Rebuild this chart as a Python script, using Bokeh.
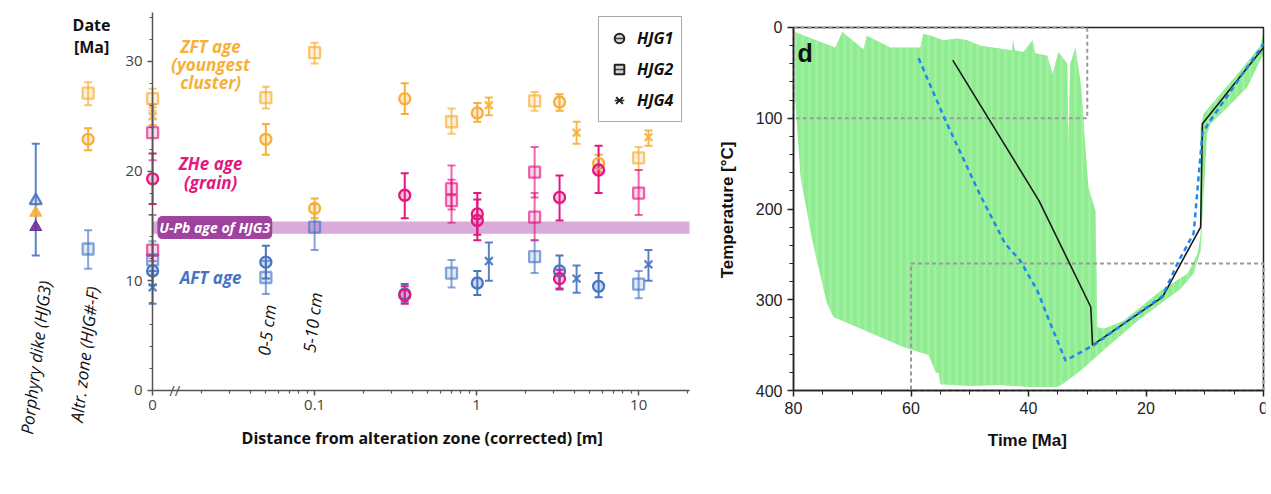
import numpy as np
from bokeh.plotting import figure
from bokeh.models import (Range1d, LinearAxis, LogAxis, FixedTicker, Whisker, TeeHead,
                          ColumnDataSource, Label, Legend, LegendItem, CustomJSTickFormatter)
from bokeh.layouts import row
from bokeh.embed import file_html
from bokeh.resources import INLINE

# ------------------------------------------------------------------ data (left panel)
# distance "0" is drawn at ZERO_POS on the broken log axis; the two reference
# columns (porphyry dike, alteration zone) sit left of the axis
ZERO_POS = 0.01
DIKE_POS = 0.0019
ALTR_POS = 0.004
X_AXIS_END = 20.6
Y_AXIS_END = 34.5

X_TICKS = [0.01, 0.1, 1, 10]
X_MINOR = [0.02, 0.03, 0.04, 0.05, 0.06, 0.07, 0.08, 0.09,
           0.2, 0.3, 0.4, 0.5, 0.6, 0.7, 0.8, 0.9,
           2, 3, 4, 5, 6, 7, 8, 9, 20]
Y_TICKS = [0, 10, 20, 30]
Y_MINOR = list(range(0, 35, 2))

# ZFT ages (youngest cluster)
ZFT_HJG1 = dict(dist=["altr", 0.05, 0.1, 0.36, 1.01, 3.25, 5.66],
                age=[22.9, 22.9, 16.6, 26.6, 25.3, 26.3, 20.7],
                lo=[21.9, 21.5, 15.7, 25.2, 24.5, 25.5, 19.9],
                hi=[23.9, 24.3, 17.5, 28.0, 26.2, 27.0, 21.5])
ZFT_HJG2 = dict(dist=["altr", 0, 0.05, 0.1, 0.70, 2.28, 10.0],
                age=[27.1, 26.6, 26.7, 30.8, 24.5, 26.4, 21.2],
                lo=[26.0, 25.5, 25.7, 29.8, 23.4, 25.5, 20.1],
                hi=[28.1, 27.5, 27.7, 31.7, 25.7, 27.2, 22.2])
ZFT_HJG4 = dict(dist=[0, 1.19, 4.14, 11.5],
                age=[25.0, 26.0, 23.5, 23.1],
                lo=[24.2, 25.1, 22.5, 22.3],
                hi=[25.8, 26.7, 24.5, 23.7])

# ZHe ages (single grains)
ZHE_HJG1 = dict(dist=[0, 0.36, 0.36, 1.01, 1.01, 3.25, 3.25, 5.66],
                age=[19.3, 17.8, 8.7, 16.1, 15.5, 17.6, 10.2, 20.1],
                lo=[17.0, 15.7, 7.9, 14.2, 13.7, 15.5, 9.3, 18.0],
                hi=[21.6, 19.8, 9.5, 18.0, 17.4, 19.6, 11.0, 22.3])
ZHE_HJG2 = dict(dist=[0, 0, 0.70, 0.70, 2.28, 2.28, 10.0],
                age=[23.5, 12.8, 18.4, 17.3, 19.9, 15.8, 18.0],
                lo=[21.0, 11.8, 16.5, 15.3, 17.6, 13.7, 16.0],
                hi=[26.1, 16.0, 20.5, 19.2, 22.2, 18.0, 20.1])

# AFT ages
AFT_HJG1 = dict(dist=[0, 0.05, 0.36, 1.01, 3.25, 5.66],
                age=[10.9, 11.7, 8.8, 9.8, 10.9, 9.5],
                lo=[9.6, 10.2, 8.1, 8.7, 9.2, 8.5],
                hi=[12.3, 13.2, 9.7, 10.9, 12.3, 10.7])
AFT_HJG2 = dict(dist=["altr", 0, 0.05, 0.1, 0.70, 2.28, 10.0],
                age=[12.9, 11.9, 10.3, 14.9, 10.7, 12.2, 9.7],
                lo=[11.1, 10.5, 8.8, 12.8, 9.4, 10.7, 8.4],
                hi=[14.6, 13.6, 11.8, 17.0, 11.9, 13.7, 10.9])
AFT_HJG4 = dict(dist=[0, 1.19, 4.14, 11.5],
                age=[9.4, 11.8, 10.2, 11.5],
                lo=[7.9, 10.0, 8.9, 10.0],
                hi=[10.9, 13.5, 11.4, 12.8])

# porphyry dike HJG3
DIKE_AFT = dict(dist=["dike"], age=[17.3], lo=[12.3], hi=[22.5])
DIKE_ZFT_AGE = [16.2]
DIKE_UPB_AGE = [14.9]

# U-Pb age band of HJG3
UPB_LO = [14.3]
UPB_HI = [15.4]

# ------------------------------------------------------------------ data (right panel)
T_AXIS_MAX = 80
TEMP_AXIS_MAX = 400
T_TICKS = [0, 20, 40, 60, 80]
T_MINOR = list(range(0, 81, 5))
TEMP_TICKS = [0, 100, 200, 300, 400]
TEMP_MINOR = list(range(0, 401, 20))

ENV_TIME = [79.8, 72.9, 71.7, 68.1, 67.5, 63.5, 58.4, 57.9, 56.2, 54.5, 52.1, 50.4,
            48.2, 42.8, 42.6, 42.3, 40.9, 39.3, 38.9, 36.8, 35.9, 34.9, 33.4, 33.2,
            32.9, 32.0, 31.1, 29.8, 28.6, 28.3,
            27.2, 23.8, 17.5, 12.9, 11.2, 10.7, 10.7, 10.2, 7.3, 3.9, 0.5, 0.0,
            0.0, 2.8, 6.1, 9.0, 9.6, 10.4, 10.7, 11.9, 14.1, 17.5, 21.4, 26.6,
            31.1, 34.0, 35.1, 40.0, 45.0, 50.0, 55.0, 55.3, 55.8, 57.0, 61.3, 73.2,
            74.3, 76.8, 78.8, 79.7]
ENV_TEMP = [5, 22, 5, 24, 9, 22, 22, 7, 10, 14, 12, 14,
            20, 25, 14, 25, 27, 14, 28, 31, 51, 27, 40, 132,
            40, 22, 62, 176, 202, 330,
            332, 323, 290, 271, 249, 228, 110, 95, 73, 47, 20, 3,
            29, 66, 88, 106, 117, 209, 246, 271, 288, 304, 323, 352,
            378, 392, 396, 396, 394, 395, 393, 381, 380, 361, 352, 319,
            304, 235, 165, 80]

BEST_TIME = [52.9, 38.2, 29.4, 29.1, 17.2, 10.7, 10.4, 0.0]
BEST_TEMP = [36, 191, 308, 350, 297, 220, 106, 22]

MEAN_TIME = [58.7, 54.3, 48.2, 44.0, 41.4, 38.5, 36.3, 33.7, 28.9, 17.2, 14.5, 11.9, 10.4, 9.0, 0.0]
MEAN_TEMP = [34, 100, 185, 238, 257, 290, 326, 367, 350, 296, 258, 227, 117, 102, 18]

# constraint boxes: (old time, young time, low temp, high temp)
BOX_OLD = [80, 60]
BOX_YOUNG = [30, 0]
BOX_TLOW = [0, 260]
BOX_THIGH = [100, 400]

# ------------------------------------------------------------------ styling
ORANGE = "#F6B03A"
MAGENTA = "#E3177F"
BLUE = "#4675C6"
PURPLE = "#7030A0"
BAND = "#D5A2D5"
FONT = "Open Sans"
FONT2 = "Liberation Sans"
H = 460


def xpos(d):
    if d == "dike":
        return DIKE_POS
    if d == "altr":
        return ALTR_POS
    if d == 0:
        return ZERO_POS
    return d


# ------------------------------------------------------------------ left figure
p = figure(width=700, height=H, x_axis_type="log",
           x_range=Range1d(0.001327, 21.5), y_range=Range1d(-5.47, 34.64),
           x_axis_location=None, y_axis_location=None,
           output_backend="svg", toolbar_location=None,
           min_border_left=10, min_border_right=8, min_border_top=10, min_border_bottom=10)
p.outline_line_color = None
p.xgrid.grid_line_color = None
p.ygrid.grid_line_color = None

xaxis = LogAxis(fixed_location=0, bounds=(ZERO_POS, X_AXIS_END),
                ticker=FixedTicker(ticks=X_TICKS, minor_ticks=X_MINOR),
                formatter=CustomJSTickFormatter(code="""
                    if (tick < 0.05) return "0";
                    if (tick < 1) return tick.toFixed(1);
                    return tick.toFixed(0);"""))
yaxis = LinearAxis(fixed_location=ZERO_POS, bounds=(0, Y_AXIS_END),
                   ticker=FixedTicker(ticks=Y_TICKS, minor_ticks=Y_MINOR))
for ax in (xaxis, yaxis):
    ax.axis_line_color = "#555555"
    ax.axis_line_width = 1.5
    ax.major_tick_line_color = "#555555"
    ax.major_tick_line_width = 1.5
    ax.minor_tick_line_color = "#555555"
    ax.minor_tick_line_width = 1.2
    ax.major_tick_out = 5
    ax.major_tick_in = 0
    ax.minor_tick_out = 3
    ax.minor_tick_in = 0
    ax.major_label_text_font = FONT
    ax.major_label_text_font_size = "15px"
    ax.major_label_text_color = "#444444"
    ax.major_label_standoff = 5
p.add_layout(xaxis, "below")
p.add_layout(yaxis, "left")

# U-Pb band
band = p.quad(left=[ZERO_POS], right=[X_AXIS_END], bottom=UPB_LO, top=UPB_HI,
              fill_color=BAND, fill_alpha=0.9, line_color=None)
band.level = "image"


def draw_series(s, color, marker, alpha, size=11):
    src = ColumnDataSource(dict(x=[xpos(d) for d in s["dist"]], y=s["age"], lo=s["lo"], hi=s["hi"]))
    w = Whisker(source=src, base="x", lower="lo", upper="hi", dimension="height",
                line_color=color, line_width=2, line_alpha=alpha, level="underlay",
                upper_head=TeeHead(size=8, line_color=color, line_width=2, line_alpha=alpha),
                lower_head=TeeHead(size=8, line_color=color, line_width=2, line_alpha=alpha))
    p.add_layout(w)
    return p.scatter("x", "y", source=src, marker=marker, size=size, line_color=color,
                     line_width=2.3, line_alpha=alpha, fill_color=color, fill_alpha=0.25 * alpha)


draw_series(DIKE_AFT, BLUE, "triangle", 0.9, size=12)
p.scatter([DIKE_POS], DIKE_ZFT_AGE, marker="triangle", size=12, fill_color=ORANGE,
          line_color=ORANGE, fill_alpha=0.9)
p.scatter([DIKE_POS], DIKE_UPB_AGE, marker="triangle", size=12, fill_color=PURPLE,
          line_color=PURPLE, fill_alpha=0.9)

draw_series(AFT_HJG2, BLUE, "square", 0.65)
draw_series(AFT_HJG1, BLUE, "circle", 1.0)
draw_series(AFT_HJG4, BLUE, "x", 0.9)
draw_series(ZFT_HJG2, ORANGE, "square", 0.7)
draw_series(ZFT_HJG1, ORANGE, "circle", 1.0)
draw_series(ZFT_HJG4, ORANGE, "x", 0.9)
draw_series(ZHE_HJG2, MAGENTA, "square", 0.65)
draw_series(ZHE_HJG1, MAGENTA, "circle", 1.0)


def label(fig, x, y, text, color="#111111", size="16px", style="bold italic", angle=0.0,
          align="center", font=FONT, **kw):
    lb = Label(x=x, y=y, text=text, text_color=color, text_font_size=size, text_font_style=style,
               angle=angle, text_align=align, text_baseline="middle", text_font=font, **kw)
    fig.add_layout(lb)
    return lb


label(p, 0.0042, 33.3, "Date", size="16px", style="bold")
label(p, 0.0042, 31.3, "[Ma]", size="16px", style="bold")
label(p, 0.0228, 31.4, "ZFT age", color=ORANGE, size="17px")
label(p, 0.0228, 29.75, "(youngest", color=ORANGE, size="17px")
label(p, 0.0228, 28.1, "cluster)", color=ORANGE, size="17px")
label(p, 0.0228, 20.7, "ZHe age", color=MAGENTA, size="17px")
label(p, 0.0228, 18.95, "(grain)", color=MAGENTA, size="17px")
label(p, 0.0228, 10.3, "AFT age", color=BLUE, size="17px")
label(p, 0.0107, 14.85, "U-Pb age of HJG3", color="white", size="14px", align="left",
      background_fill_color="#9B3A9B", background_fill_alpha=0.95, padding=2, border_radius=5)
label(p, 0.0019, 3.0, "Porphyry dike (HJG3)", size="17px", style="italic", angle=1.45)
label(p, 0.0038, 3.3, "Altr. zone (HJG#-F)", size="17px", style="italic", angle=1.45)
label(p, 0.0506, 5.5, "0-5 cm", size="17px", style="italic", angle=1.45)
label(p, 0.097, 6.2, "5-10 cm", size="17px", style="italic", angle=1.45)
label(p, 0.0137, 0.0, "//", color="#555555", size="15px", style="normal")
label(p, 0.461, -4.3, "Distance from alteration zone (corrected) [m]", size="16px", style="bold")

# legend (proxy renderers with no visible points)
items = []
for name, mk in [("HJG1", "circle"), ("HJG2", "square"), ("HJG4", "x")]:
    bar = p.scatter(x=[np.nan], y=[np.nan], marker="dash", angle=np.pi / 2, size=12,
                    line_color="#222222", line_width=1.5)
    sym = p.scatter(x=[np.nan], y=[np.nan], marker=mk, size=10, line_color="#222222",
                    line_width=2, fill_color="#777777", fill_alpha=0.3)
    items.append(LegendItem(label=name, renderers=[bar, sym]))
legend = Legend(items=items, location=(588, 328), border_line_color="#555555",
                border_line_width=1.5, padding=8, spacing=5, margin=0,
                glyph_width=24, glyph_height=26, label_standoff=6,
                label_text_font=FONT, label_text_font_size="16px",
                label_text_font_style="bold italic", label_text_color="#111111",
                background_fill_alpha=1.0)
p.add_layout(legend)

# ------------------------------------------------------------------ right figure
q = figure(width=568, height=H, x_range=Range1d(94.13, -0.34), y_range=Range1d(466.1, -18.73),
           x_axis_location=None, y_axis_location=None,
           output_backend="svg", toolbar_location=None,
           min_border_left=10, min_border_right=3, min_border_top=10, min_border_bottom=10)
q.xgrid.grid_line_color = None
q.ygrid.grid_line_color = None
q.outline_line_color = None

qx = LinearAxis(fixed_location=TEMP_AXIS_MAX, bounds=(0, T_AXIS_MAX),
                ticker=FixedTicker(ticks=T_TICKS, minor_ticks=T_MINOR))
qy = LinearAxis(fixed_location=T_AXIS_MAX, bounds=(0, TEMP_AXIS_MAX),
                ticker=FixedTicker(ticks=TEMP_TICKS, minor_ticks=TEMP_MINOR))
for ax in (qx, qy):
    ax.axis_line_color = "#222222"
    ax.axis_line_width = 1.5
    ax.major_tick_line_color = "#222222"
    ax.major_tick_line_width = 1.5
    ax.minor_tick_line_color = "#222222"
    ax.major_tick_out = 6
    ax.major_tick_in = 0
    ax.minor_tick_out = 4
    ax.minor_tick_in = 0
    ax.major_label_text_font = FONT2
    ax.major_label_text_font_size = "16px"
    ax.major_label_text_color = "#222222"
    ax.major_label_standoff = 5
q.add_layout(qx, "below")
q.add_layout(qy, "left")

q.patch(ENV_TIME, ENV_TEMP, fill_color="#90EC90", line_color=None,
        hatch_pattern="vertical_line", hatch_color="#A6F0A6", hatch_scale=7, hatch_weight=2)
# plot box (top and right edges)
q.quad(left=[T_AXIS_MAX], right=[0], top=[0], bottom=[TEMP_AXIS_MAX], fill_color=None,
       line_color="#222222", line_width=1.5)
q.quad(left=BOX_OLD, right=BOX_YOUNG, top=BOX_TLOW, bottom=BOX_THIGH, fill_color=None,
       line_color="#9A9A9A", line_dash="4 3", line_width=2)
q.line(BEST_TIME, BEST_TEMP, line_color="#1A1A1A", line_width=1.6)
q.line(MEAN_TIME, MEAN_TEMP, line_color="#1E88F0", line_dash="5 4", line_width=2.5)

label(q, 79.3, 28, "d", size="25px", style="bold", align="left", font=FONT2)
label(q, 91.2, 201, "Temperature [°C]", size="17px", style="bold", angle=np.pi / 2, font=FONT2)
label(q, 40.2, 455, "Time [Ma]", size="17px", style="bold", font=FONT2)

layout = row(p, q)
open("out.html", "w").write(file_html(layout, INLINE))
